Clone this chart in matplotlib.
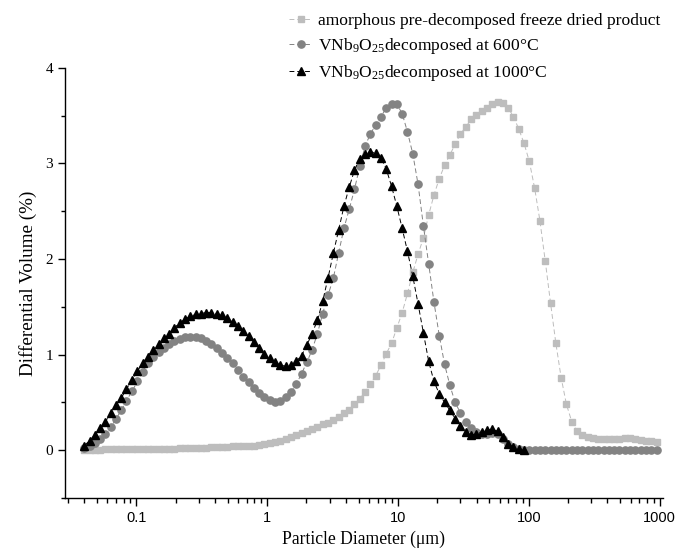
import matplotlib
matplotlib.use("Agg")
import matplotlib.pyplot as plt
from matplotlib.ticker import LogLocator, FixedLocator, NullFormatter, FixedFormatter

# particle size channels (um)
diameter = [
    0.040, 0.044, 0.048, 0.053, 0.058, 0.064, 0.070, 0.077, 0.084, 0.093,
    0.102, 0.112, 0.122, 0.134, 0.148, 0.162, 0.178, 0.195, 0.214, 0.235,
    0.258, 0.284, 0.311, 0.342, 0.375, 0.412, 0.452, 0.496, 0.545, 0.598,
    0.657, 0.721, 0.791, 0.869, 0.954, 1.047, 1.149, 1.261, 1.385, 1.520,
    1.669, 1.832, 2.011, 2.208, 2.423, 2.660, 2.920, 3.206, 3.519, 3.863,
    4.241, 4.656, 5.111, 5.611, 6.159, 6.761, 7.422, 8.148, 8.944, 9.819,
    10.78, 11.83, 12.99, 14.26, 15.65, 17.18, 18.86, 20.70, 22.73, 24.95,
    27.39, 30.07, 33.01, 36.24, 39.78, 43.67, 47.94, 52.62, 57.77, 63.41,
    69.61, 76.42, 83.89, 92.09, 101.1, 111.0, 121.8, 133.7, 146.8, 161.2,
    176.9, 194.2, 213.2, 234.1, 256.9, 282.1, 309.6, 339.9, 373.1, 409.6,
    449.7, 493.6, 541.9, 594.9, 653.0, 716.9, 786.9, 863.9, 948.3,
]

# amorphous pre-decomposed freeze dried product
vol_amorphous = [
    0.00, 0.00, 0.00, 0.00, 0.01, 0.01, 0.01, 0.01, 0.01, 0.01,
    0.01, 0.01, 0.01, 0.01, 0.01, 0.01, 0.01, 0.01, 0.02, 0.02,
    0.02, 0.02, 0.02, 0.02, 0.03, 0.03, 0.03, 0.03, 0.04, 0.04,
    0.04, 0.05, 0.05, 0.06, 0.07, 0.08, 0.09, 0.10, 0.12, 0.14,
    0.16, 0.18, 0.20, 0.22, 0.24, 0.27, 0.29, 0.32, 0.35, 0.39,
    0.42, 0.48, 0.54, 0.61, 0.69, 0.78, 0.89, 1.01, 1.12, 1.28,
    1.44, 1.64, 1.86, 2.05, 2.22, 2.46, 2.67, 2.84, 2.98, 3.09,
    3.20, 3.31, 3.38, 3.46, 3.51, 3.55, 3.58, 3.62, 3.64, 3.63,
    3.58, 3.49, 3.36, 3.21, 3.02, 2.74, 2.40, 1.98, 1.54, 1.12,
    0.76, 0.48, 0.30, 0.20, 0.16, 0.14, 0.13, 0.12, 0.12, 0.12,
    0.12, 0.12, 0.13, 0.13, 0.12, 0.11, 0.10, 0.10, 0.09,
]

# decomposed at 600 C
vol_600 = [
    0.02, 0.05, 0.08, 0.12, 0.17, 0.24, 0.33, 0.42, 0.52, 0.62,
    0.72, 0.82, 0.91, 0.98, 1.03, 1.07, 1.11, 1.14, 1.16, 1.18,
    1.18, 1.18, 1.17, 1.14, 1.11, 1.07, 1.02, 0.97, 0.91, 0.84,
    0.77, 0.71, 0.65, 0.60, 0.56, 0.53, 0.51, 0.52, 0.56, 0.61,
    0.69, 0.80, 0.92, 1.05, 1.22, 1.43, 1.62, 1.80, 2.06, 2.32,
    2.52, 2.73, 2.97, 3.18, 3.31, 3.40, 3.49, 3.58, 3.62, 3.62,
    3.52, 3.33, 3.10, 2.78, 2.35, 1.95, 1.55, 1.20, 0.90, 0.68,
    0.50, 0.39, 0.30, 0.23, 0.19, 0.17, 0.17, 0.18, 0.17, 0.12,
    0.07, 0.03, 0.01, 0.00, 0.00, 0.00, 0.00, 0.00, 0.00, 0.00,
    0.00, 0.00, 0.00, 0.00, 0.00, 0.00, 0.00, 0.00, 0.00, 0.00,
    0.00, 0.00, 0.00, 0.00, 0.00, 0.00, 0.00, 0.00, 0.00,
]

# decomposed at 1000 C (ends near 100 um)
vol_1000 = [
    0.05, 0.10, 0.16, 0.23, 0.30, 0.39, 0.47, 0.55, 0.64, 0.74,
    0.83, 0.91, 0.98, 1.05, 1.11, 1.17, 1.22, 1.28, 1.33, 1.37,
    1.40, 1.42, 1.43, 1.44, 1.44, 1.43, 1.41, 1.38, 1.34, 1.30,
    1.25, 1.19, 1.13, 1.07, 1.01, 0.96, 0.92, 0.89, 0.88, 0.89,
    0.93, 0.99, 1.10, 1.22, 1.36, 1.56, 1.80, 2.06, 2.30, 2.55,
    2.75, 2.93, 3.05, 3.10, 3.12, 3.11, 3.06, 2.94, 2.76, 2.55,
    2.32, 2.08, 1.82, 1.53, 1.23, 0.93, 0.72, 0.59, 0.50, 0.42,
    0.33, 0.25, 0.19, 0.16, 0.17, 0.19, 0.21, 0.22, 0.20, 0.14,
    0.07, 0.03, 0.01, 0.00,
]

labels = [
    "amorphous pre-decomposed freeze dried product",
    "VNb$_9$O$_{25}$decomposed at 600°C",
    "VNb$_9$O$_{25}$decomposed at 1000°C",
]

plt.rcParams["mathtext.fontset"] = "custom"
plt.rcParams["mathtext.rm"] = "Liberation Serif"
plt.rcParams["mathtext.it"] = "Liberation Serif:italic"
plt.rcParams["font.family"] = "Liberation Serif"

fig = plt.figure(figsize=(6.75, 5.51), dpi=100)
ax = fig.add_axes([0.096, 0.096, 0.886, 0.781])

dash = (0, (5, 3))
ax.plot(diameter, vol_amorphous, color="#bdbdbd", lw=0.7, ls=dash, marker="s",
        ms=4.6, mec="#bdbdbd", mfc="#bdbdbd", label=labels[0])
ax.plot(diameter, vol_600, color="#838383", lw=0.7, ls=dash, marker="o",
        ms=5.2, mec="#838383", mfc="#838383", label=labels[1])
ax.plot(diameter[:len(vol_1000)], vol_1000, color="black", lw=0.7, ls=dash,
        marker="^", ms=5.4, mec="black", mfc="black", label=labels[2])

ax.set_xscale("log")
ax.set_xlim(0.0284, 1060)
ax.set_ylim(-0.5, 4)

for side in ["top", "right"]:
    ax.spines[side].set_visible(False)
for side in ["left", "bottom"]:
    ax.spines[side].set_linewidth(1.0)

ax.set_yticks([0, 1, 2, 3, 4])
ax.yaxis.set_minor_locator(FixedLocator([-0.5, 0.5, 1.5, 2.5, 3.5]))
ax.tick_params(axis="y", which="major", direction="out", length=5, width=1,
               labelsize=11)
ax.tick_params(axis="y", which="minor", direction="out", length=3, width=1)

ax.xaxis.set_major_locator(FixedLocator([0.1, 1, 10, 100, 1000]))
ax.xaxis.set_major_formatter(FixedFormatter(["0.1", "1", "10", "100", "1000"]))
ax.xaxis.set_minor_locator(LogLocator(base=10, subs=range(2, 10), numticks=20))
ax.xaxis.set_minor_formatter(NullFormatter())
ax.tick_params(axis="x", which="major", direction="out", length=6, width=1,
               labelsize=10.5)
ax.tick_params(axis="x", which="minor", direction="out", length=3.5, width=1)
for lab in ax.get_xticklabels():
    lab.set_family("Liberation Sans")

ax.set_xlabel("Particle Diameter (\u03bcm)", fontsize=12.7, labelpad=4)
ax.set_ylabel("Differential Volume (%)", fontsize=13.8, labelpad=6)

fig.legend(loc="upper left", bbox_to_anchor=(0.418, 0.99), frameon=False,
           fontsize=12.6, handlelength=1.3, handletextpad=0.35,
           labelspacing=0.4, borderaxespad=0)

fig.savefig("out.png", dpi=100)
